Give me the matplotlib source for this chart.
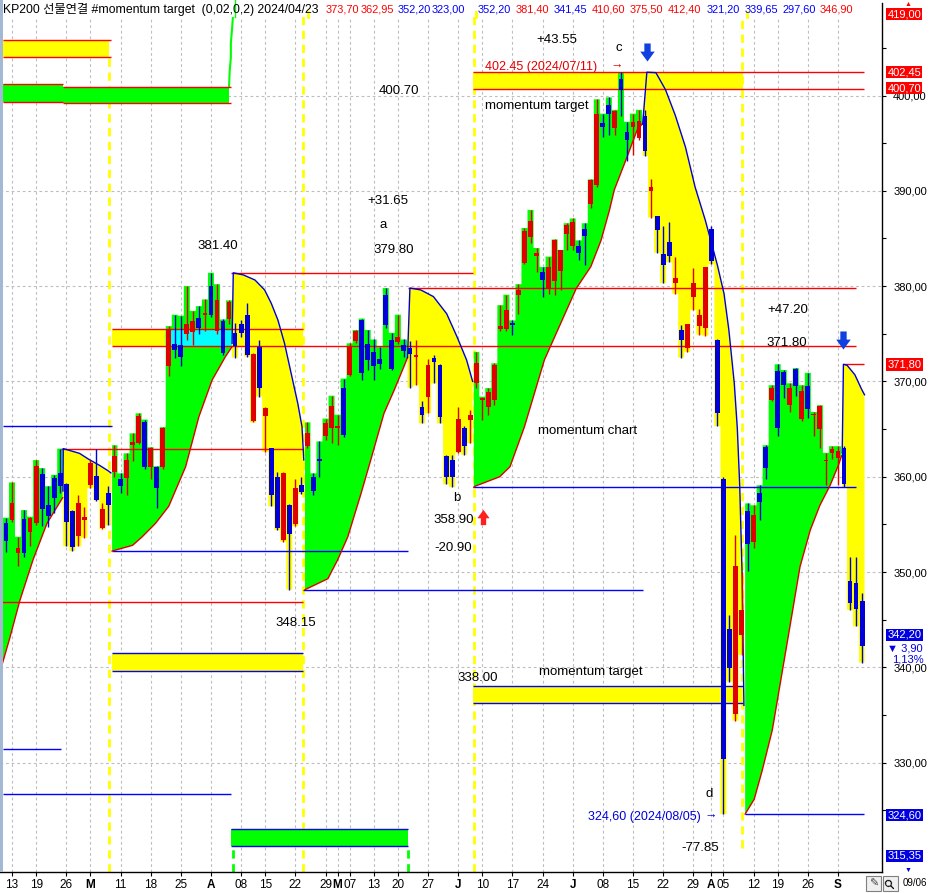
import numpy as np
import pandas as pd
import matplotlib
matplotlib.use("Agg")
import matplotlib.pyplot as plt
from matplotlib.path import Path
from matplotlib.patches import Polygon, Rectangle
from matplotlib.lines import Line2D
from matplotlib.ticker import FuncFormatter

plt.rcParams['font.family'] = ['Liberation Sans', 'Noto Sans CJK KR', 'DejaVu Sans']

# ---------------- 거래일 (KRX) ----------------
holidays = ['2024-02-09', '2024-02-12', '2024-03-01', '2024-04-10', '2024-05-01',
            '2024-05-06', '2024-05-15', '2024-06-06', '2024-08-15']
dates = pd.bdate_range('2024-02-08', '2024-09-06')
dates = dates[~dates.isin(pd.to_datetime(holidays))]

# ---------------- 일봉 OHLC ----------------
opens = [355.1, 355.5, 352.0, 355.6, 354.2, 355.1, 360.3, 357.0, 359.9, 360.35,
         359.2, 356.4, 353.8, 355.5, 359.1, 360.1, 354.6, 358.3, 360.5, 359.8,
         359.9, 363.3, 363.5, 365.7, 361.05, 361.0, 361.0, 371.6, 373.9, 373.8,
         375.0, 375.2, 376.7, 377.0, 380.0, 375.3, 376.3, 376.5, 375.1, 376.0,
         377.0, 365.8, 373.65, 366.4, 363.0, 360.0, 353.4, 357.0, 355.0, 359.1,
         363.2, 360.0, 361.9, 364.3, 365.1, 365.1, 369.3, 370.7, 374.2, 376.45,
         373.9, 373.1, 372.4, 379.1, 374.35, 374.1, 373.8, 373.5, 372.6, 367.35,
         368.4, 372.5, 371.7, 362.2, 361.75, 362.6, 365.1, 366.0, 369.8, 368.0,
         367.35, 368.0, 375.5, 375.5, 376.1, 379.1, 382.45, 385.2, 383.2, 381.5,
         379.7, 380.5, 381.6, 385.5, 384.2, 384.2, 386.0, 388.6, 390.6, 397.15,
         399.0, 396.55, 401.7, 396.2, 396.7, 395.5, 397.85, 390.0, 387.4, 383.4,
         384.6, 380.3, 375.4, 373.5, 378.9, 375.8, 375.6, 386.0, 374.3, 359.75,
         344.0, 335.05, 343.35, 356.45, 353.2, 358.25, 363.1, 368.1, 371.1, 371.0,
         367.5, 371.3, 366.05, 369.5, 366.45, 365.0, 361.6, 362.5, 362.0, 363.05,
         349.05, 348.8, 347.0]
highs = [355.7, 359.4, 353.7, 356.5, 355.8, 361.75, 360.9, 359.0, 360.2, 362.95,
         359.3, 356.5, 358.05, 356.8, 361.8, 362.9, 357.2, 359.0, 363.3, 360.35,
         362.45, 364.55, 366.65, 366.0, 363.1, 361.1, 365.2, 375.8, 377.0, 376.9,
         380.0, 377.4, 377.9, 378.6, 381.4, 380.2, 376.5, 378.5, 376.1, 376.4,
         378.2, 373.0, 374.35, 367.35, 363.0, 360.5, 360.5, 357.1, 359.8, 360.0,
         365.7, 360.35, 363.7, 366.1, 368.5, 366.5, 370.3, 374.0, 375.4, 376.6,
         375.4, 374.4, 373.6, 379.8, 375.1, 377.0, 374.4, 374.2, 374.35, 367.9,
         372.4, 372.8, 371.8, 362.3, 362.3, 367.35, 365.3, 367.0, 373.1, 368.4,
         369.3, 371.9, 378.0, 379.1, 376.4, 380.2, 386.1, 388.0, 384.0, 382.0,
         383.1, 384.9, 383.8, 386.6, 387.1, 384.8, 386.6, 391.2, 399.6, 398.1,
         399.8, 398.5, 402.45, 397.25, 398.1, 398.5, 398.5, 391.2, 387.4, 386.3,
         386.7, 383.1, 375.9, 376.0, 381.9, 377.6, 382.0, 386.3, 374.5, 360.0,
         345.5, 353.9, 350.0, 357.2, 357.0, 359.1, 363.3, 369.6, 371.8, 371.2,
         369.8, 371.4, 369.6, 370.9, 366.8, 367.5, 362.5, 363.2, 363.2, 363.2,
         351.6, 351.6, 347.8]
lows = [352.1, 355.3, 350.6, 351.6, 352.7, 354.9, 354.8, 354.7, 356.2, 358.3,
        352.7, 352.2, 352.7, 353.6, 358.8, 357.5, 354.5, 354.9, 360.0, 358.3,
        358.1, 361.6, 363.4, 360.8, 359.8, 356.7, 360.8, 370.6, 372.5, 371.6,
        374.35, 373.8, 375.0, 375.3, 376.8, 375.0, 372.8, 376.0, 372.5, 374.7,
        372.6, 365.7, 368.4, 362.6, 356.9, 354.4, 353.2, 348.15, 354.8, 358.2,
        363.0, 358.1, 360.0, 363.85, 363.5, 363.3, 364.2, 370.6, 374.0, 370.15,
        371.2, 370.1, 371.3, 375.6, 371.2, 373.9, 372.6, 369.35, 369.6, 365.6,
        366.65, 369.8, 365.6, 359.2, 358.9, 362.5, 362.3, 363.5, 369.3, 366.0,
        366.5, 367.5, 375.3, 375.3, 374.9, 377.1, 382.3, 384.5, 381.5, 378.9,
        379.2, 379.1, 379.6, 383.8, 383.8, 382.7, 382.2, 388.2, 390.4, 395.7,
        395.85, 395.85, 397.8, 393.1, 393.75, 395.3, 393.65, 387.2, 383.5, 380.3,
        382.5, 379.2, 372.5, 373.1, 377.5, 374.9, 374.8, 382.3, 365.3, 324.6,
        338.5, 334.4, 341.3, 350.1, 352.5, 355.5, 359.75, 367.9, 364.3, 368.3,
        366.8, 368.5, 365.8, 366.2, 364.3, 363.0, 359.1, 361.9, 359.1, 358.9,
        346.0, 344.3, 340.5]
closes = [353.3, 357.2, 352.5, 352.0, 355.7, 361.1, 356.6, 355.9, 357.8, 359.0,
          355.2, 352.6, 357.2, 355.75, 361.4, 357.6, 356.6, 357.0, 362.2, 359.0,
          361.75, 363.6, 366.4, 361.05, 363.0, 358.85, 365.1, 375.45, 373.3, 372.6,
          376.0, 376.3, 375.6, 377.15, 377.0, 378.5, 373.0, 378.35, 373.7, 375.1,
          372.8, 372.9, 369.35, 367.2, 358.1, 354.6, 360.35, 354.0, 358.8, 358.4,
          364.55, 358.5, 361.7, 365.6, 367.4, 365.3, 364.4, 373.65, 375.3, 370.9,
          372.3, 371.6, 371.8, 375.9, 371.3, 374.7, 373.2, 372.85, 372.8, 366.5,
          371.7, 372.0, 366.3, 360.0, 360.0, 366.1, 363.2, 366.5, 371.9, 368.3,
          368.9, 371.7, 375.8, 377.5, 375.9, 379.6, 385.8, 386.8, 383.5, 380.6,
          382.0, 384.8, 383.8, 386.4, 386.7, 383.5, 385.3, 391.1, 398.1, 396.7,
          398.1, 398.4, 400.6, 395.3, 397.25, 397.3, 394.2, 390.35, 385.9, 382.2,
          383.15, 380.9, 374.3, 376.0, 380.3, 377.0, 382.0, 382.6, 366.7, 330.4,
          339.9, 350.6, 346.05, 352.9, 356.0, 357.3, 360.9, 369.3, 365.1, 369.6,
          369.3, 369.5, 369.0, 367.1, 366.6, 367.45, 361.8, 362.9, 362.75, 359.25,
          346.7, 346.1, 342.2]

# ---------------- momentum chart 구간 (곡선 꼭짓점: 봉 위치, 값) ----------------
seg_kind = ['g', 'y', 'g', 'y', 'g', 'y', 'g', 'y', 'g', 'y']
seg_bars = [(0, 9), (10, 17), (18, 37), (38, 49), (50, 66), (67, 77),
            (78, 105), (106, 122), (123, 138), (139, 142)]
seg_x = [
    [-1.0, 0.6, 2.3, 4.5, 6.8, 9.4],
    [9.45, 9.5, 12.2, 13.8, 15.5, 17.0, 17.4],
    [17.6, 21.0, 22.6, 24.8, 27.0, 29.8, 32.0, 34.2, 36.4, 37.5],
    [37.5, 37.7, 39.4, 41.3, 42.9, 44.0, 45.1, 46.2, 47.3, 48.4, 49.1, 49.4],
    [49.6, 53.4, 55.0, 56.7, 58.9, 60.5, 62.7, 64.4, 66.0, 66.6],
    [66.6, 67.0, 68.8, 70.9, 73.1, 74.8, 76.4, 77.4],
    [77.6, 77.8, 81.9, 83.6, 86.0, 89.3, 94.6, 97.0, 98.7, 100.1, 100.9, 102.8, 104.7, 105.5],
    [105.6, 106.3, 107.8, 109.4, 111.0, 112.7, 114.3, 116.0, 118.0, 119.1, 119.9,
     120.8, 121.3, 121.7, 122.1, 122.4],
    [122.6, 124.1, 125.4, 127.1, 128.5, 130.1, 131.7, 133.4, 135.0, 136.7, 138.1, 138.6],
    [138.7, 138.9, 139.5, 140.8, 141.9, 142.4],
]
seg_v = [
    [339.5, 343.0, 347.0, 351.3, 355.1, 357.8],
    [358.5, 362.95, 362.45, 361.8, 361.2, 360.6, 360.4],
    [352.2, 352.8, 353.7, 355.1, 356.9, 361.05, 366.3, 370.15, 372.6, 373.65],
    [374.0, 381.4, 381.17, 380.64, 379.6, 378.2, 376.45, 374.0, 370.85, 367.7, 365.25, 361.75],
    [348.15, 349.3, 351.26, 353.7, 358.25, 361.75, 366.65, 369.1, 371.55, 372.5],
    [372.5, 379.8, 379.6, 378.9, 377.1, 374.7, 372.25, 370.0],
    [358.9, 359.0, 360.0, 361.05, 365.25, 372.25, 379.77, 382.04, 384.8, 387.98, 390.1,
     393.2, 396.4, 397.0],
    [397.0, 402.45, 402.4, 400.6, 397.95, 394.6, 390.4, 386.9, 382.2, 379.2, 375.4,
     369.8, 365.1, 359.1, 349.7, 336.0],
    [324.6, 326.15, 329.1, 333.4, 338.6, 344.55, 350.55, 354.4, 357.0, 359.1, 361.25, 362.2],
    [362.5, 371.8, 371.7, 370.7, 369.2, 368.6],
]

# ---------------- momentum target 박스 / 수평선 ----------------
box_top = [405.80, 401.18, 400.92, 375.50, 341.45, 402.45, 338.00, 323.00]
box_bot = [404.05, 399.30, 399.18, 373.70, 339.65, 400.70, 336.25, 321.20]
box_x0 = [-0.7, -0.7, 9.4, 17.6, 17.6, 77.4, 77.4, 37.4]
box_x1 = [17.1, 9.4, 37.0, 49.3, 49.3, 122.3, 122.3, 66.6]
box_fill = ['y', 'g', 'g', 'y', 'y', 'y', 'y', 'g']

red_lv = [405.80, 404.05, 401.18, 399.30, 400.92, 399.18, 381.40, 379.80, 375.50,
          373.70, 362.95, 346.90, 402.45, 400.70, 371.80]
red_x0 = [-0.5, -0.5, -0.5, -0.5, 9.4, 9.4, 37.4, 66.6, 17.6, 17.6, 9.2, -1.0, 77.4, 77.4, 139.0]
red_x1 = [17.5, 17.5, 9.4, 9.4, 37.4, 37.4, 77.4, 141.0, 49.3, 141.0, 49.3, 49.3, 142.3, 142.3, 142.3]
blue_lv = [365.30, 352.20, 348.15, 358.90, 331.40, 326.70, 341.45, 339.65, 338.00,
           336.25, 323.00, 321.20, 324.60]
blue_x0 = [-0.5, 17.6, 49.3, 77.4, -0.5, -0.5, 17.6, 17.6, 77.4, 77.4, 37.4, 37.4, 122.6]
blue_x1 = [17.6, 66.6, 105.6, 141.0, 9.2, 37.4, 49.3, 49.3, 122.3, 122.3, 66.6, 66.6, 142.3]

# 구간 전환 세로선: (봉 위치, 위쪽 끝 값)
yellow_marks = [17.1, 49.3, 77.6, 122.1]
yellow_tops = [404.05, 409.71, 409.71, 409.71]
yellow_bots = [318.52, 318.52, 318.52, 321.0]
green_marks = [37.7, 66.6]

header_vals = ['373,70', '362,95', '352,20', '323,00', '352,20', '381,40', '341,45',
               '410,60', '375,50', '412,40', '321,20', '339,65', '297,60', '346,90']
header_cols = ['r', 'r', 'b', 'b', 'b', 'r', 'b', 'r', 'r', 'r', 'b', 'b', 'b', 'r']
header_px = [326, 361, 398, 432, 478, 516, 554, 592, 630, 668, 707, 745, 782, 820]

RED, BLUE = '#E00000', '#0000D8'
GREEN, YELLOW, CYAN = '#00FF00', '#FFFF00', '#00FFFF'
W, H = 930, 893

fig = plt.figure(figsize=(W / 100, H / 100), dpi=100)
ax = fig.add_axes([0, 21 / H, 882 / W, 869 / H])
ax.set_xlim(-0.99, 145.3)
ax.set_ylim(318.52, 409.71)
for s in ['top', 'left']:
    ax.spines[s].set_visible(False)
ax.spines['right'].set_linewidth(1)
ax.spines['bottom'].set_linewidth(1)

# 날짜 눈금
month_letter = {3: 'M', 4: 'A', 5: 'M', 6: 'J', 7: 'J', 8: 'A', 9: 'S'}
tpos, tlab, tbold = [], [], []
for k in range(1, len(dates)):
    d, p = dates[k], dates[k - 1]
    if d.month != p.month:
        tpos.append(k); tlab.append(month_letter[d.month]); tbold.append(True)
    elif d.isocalendar().week != p.isocalendar().week:
        tpos.append(k); tlab.append(f'{d.day:02d}'); tbold.append(False)
ax.set_xticks(tpos)
ax.set_xticklabels(tlab)
for t, b in zip(ax.get_xticklabels(), tbold):
    if b:
        t.set_fontweight('bold')
ax.tick_params(axis='x', direction='out', length=3, width=0.8, labelsize=8.5, pad=2)

ax.yaxis.tick_right()
ax.set_yticks(np.arange(330, 401, 10))
ax.set_yticks(np.arange(325, 410, 10), minor=True)
ax.yaxis.set_major_formatter(FuncFormatter(lambda v, p: f'{v:.2f}'.replace('.', ',')))
ax.tick_params(axis='y', which='both', direction='out', length=3, width=0.8,
               labelsize=8, pad=5)

# 격자
gkw = dict(color='#BEBEBE', lw=0.8, ls=(0, (2.5, 2.5)), zorder=0)
for v in np.arange(330, 401, 10):
    ax.axhline(v, **gkw)
for x in tpos:
    ax.axvline(x, **gkw)

# 구간 표시 세로선
ax.vlines(yellow_marks, yellow_bots, yellow_tops, color=YELLOW, lw=2, ls=(0, (3, 2)),
          zorder=0.5)
ax.vlines(green_marks, 318.52, 321.2, color=GREEN, lw=2, ls=(0, (3, 2)), zorder=0.5)
ax.plot([37.0, 37.1, 37.3, 37.3, 37.5, 37.8], [400.9, 402.5, 404.0, 405.5, 407.0, 409.7],
        color=GREEN, lw=1.5, zorder=0.6)

# 박스
for t, b, x0, x1, f in zip(box_top, box_bot, box_x0, box_x1, box_fill):
    ax.add_patch(Rectangle((x0, b), x1 - x0, t - b, fc=GREEN if f == 'g' else YELLOW,
                           ec='none', zorder=1))

# momentum chart
for kind, (b0, b1), cx, cv in zip(seg_kind, seg_bars, seg_x, seg_v):
    price = highs if kind == 'g' else lows
    pts = list(zip(cx, cv))
    for k in range(b1, b0 - 1, -1):
        pts.append((min(k + 0.5, cx[-1]), price[k]))
        pts.append((max(k - 0.5, cx[0]), price[k]))
    ax.add_patch(Polygon(pts, closed=True, fc=GREEN if kind == 'g' else YELLOW,
                         ec='none', zorder=1.5))
    if kind == 'g' and b0 == 18:
        clip = Rectangle((17.6, 373.70), 49.3 - 17.6, 375.50 - 373.70, transform=ax.transData)
        cy = Polygon(pts, closed=True, fc=CYAN, ec='none', zorder=1.6)
        ax.add_patch(cy)
        cy.set_clip_path(clip)
    ax.plot(cx, cv, color=RED if kind == 'g' else BLUE, lw=1, zorder=2.5)

# 수평선
ax.hlines(red_lv, red_x0, red_x1, colors='#FF0000', lw=1, zorder=2)
ax.hlines(blue_lv, blue_x0, blue_x1, colors='#0000FF', lw=1, zorder=2)

# 캔들
idx = np.arange(len(dates))
o, h, l, c = map(np.array, (opens, highs, lows, closes))
col = np.where(c >= o, RED, BLUE)
ax.vlines(idx, l, h, colors=col, lw=1, zorder=4)
ax.bar(idx, np.maximum(np.abs(c - o), 0.12), bottom=np.minimum(o, c), width=0.8,
       color=col, linewidth=0, zorder=5)

# 주석
tkw = dict(ha='center', va='center', fontsize=9.5, color='black', zorder=6)
notes = [(65.1, 400.47, '400.70'), (63.4, 388.93, '+31.65'), (62.6, 386.4, 'a'),
         (64.25, 383.8, '379.80'), (35.1, 384.2, '381.40'), (48.1, 344.65, '348.15'),
         (74.8, 357.8, 'b'), (74.3, 355.5, '358.90'), (74.1, 352.5, '-20.90'),
         (91.4, 405.8, '+43.55'), (101.6, 405.0, 'c'), (88.0, 398.9, 'momentum target'),
         (96.4, 364.8, 'momentum chart'), (97.0, 339.5, 'momentum target'),
         (78.3, 338.9, '338.00'), (129.7, 377.5, '+47.20'), (129.5, 374.0, '371.80'),
         (116.6, 326.7, 'd'), (115.2, 321.0, '-77.85')]
for x, y, s in notes:
    ax.text(x, y, s, **tkw)
ax.text(88.8, 403.0, '402.45 (2024/07/11)', ha='center', va='center', fontsize=9,
        color=RED, zorder=6)
ax.text(101.3, 403.1, '→', ha='center', va='center', fontsize=9, color=RED, zorder=6)
ax.text(105.9, 324.3, '324,60 (2024/08/05)', ha='center', va='center', fontsize=9,
        color=BLUE, zorder=6)
ax.text(116.9, 324.4, '→', ha='center', va='center', fontsize=9, color=BLUE, zorder=6)

arrow = Path([(-0.35, 1), (0.35, 1), (0.35, 0.1), (0.8, 0.1), (0, -1), (-0.8, 0.1),
              (-0.35, 0.1), (-0.35, 1)], [Path.MOVETO] + [Path.LINETO] * 6 + [Path.CLOSEPOLY])
arrow_up = Path(arrow.vertices * [1, -1], arrow.codes)
ax.plot([106.3, 138.9], [404.6, 374.3], ls='none', marker=arrow, ms=13,
        color='#1040E0', mec='none', zorder=6)
ax.plot([79.2], [355.8], ls='none', marker=arrow_up, ms=11, color='#FF2020',
        mec='none', zorder=6)

# 오른쪽 가격 라벨
ytr = ax.get_yaxis_transform()
lkw = dict(transform=ytr, ha='left', va='center', fontsize=8, color='white', zorder=7)
for v, s, fc in [(402.46, '402,45', '#FF0000'), (400.79, '400,70', '#FF0000'),
                 (371.80, '371,80', '#FF0000'), (343.4, '342,20', '#0000E0'),
                 (324.5, '324,60', '#0000E0'), (408.55, '419,00', '#FF0000'),
                 (320.2, '315,35', '#0000E0')]:
    ax.text(1.006, v, s, bbox=dict(boxstyle='square,pad=0.12', fc=fc, ec='none'), **lkw)
ax.text(1.006, 342.0, '▼ 3,90', transform=ytr, ha='left', va='center', fontsize=8,
        color='#0000E0')
ax.text(1.012, 340.8, '1,13%', transform=ytr, ha='left', va='center', fontsize=8,
        color='#0000E0')
fig.text(908 / W, 1 - 5 / H, '▲', ha='center', va='center', fontsize=5, color='#FF0000')
fig.text(908 / W, 1 - 870 / H, '▼', ha='center', va='center', fontsize=5, color='#0000E0')

# 헤더
fig.add_artist(Rectangle((0, 1 - 17 / H), 880 / W, 17 / H, transform=fig.transFigure,
                         fc='white', ec='none', zorder=1))
fig.add_artist(Line2D([235 / W, 235 / W], [1, 1 - 17 / H], color=GREEN, lw=1, zorder=1.5))
for xp in [308, 476, 747]:
    fig.add_artist(Line2D([xp / W, xp / W], [1 - 12 / H, 1 - 17 / H], color=YELLOW,
                          lw=2, zorder=1.5))
fig.text(2.7 / W, 1 - 10 / H, 'KP200 선물연결 #momentum target  (0,02,0,2) 2024/04/23',
         ha='left', va='center', fontsize=8.8, color='black', zorder=2)
for s, cc, xp in zip(header_vals, header_cols, header_px):
    fig.text(xp / W, 1 - 10 / H, s, ha='left', va='center', fontsize=7.9,
             color='#FF0000' if cc == 'r' else '#0000FF', zorder=2)

# 왼쪽 테두리, 오른쪽 아래 아이콘
fig.add_artist(Rectangle((0, 21 / H), 3 / W, 872 / H, transform=fig.transFigure,
                         fc='#A3B8D3', ec='none', zorder=1))
for x0 in [866, 883]:
    fig.add_artist(Rectangle((x0 / W, 1 - 891 / H), 15 / W, 15 / H, transform=fig.transFigure,
                             fc='#F0F0F0', ec='#808080', lw=0.8, zorder=1))
fig.text(873.5 / W, 1 - 883.5 / H, '✎', ha='center', va='center', fontsize=8,
         family='DejaVu Sans', color='#404040')
fig.text(890.5 / W, 1 - 883.5 / H, '⚲', ha='center', va='center', fontsize=9,
         family='DejaVu Sans', color='black', rotation=45)
fig.text(903 / W, 1 - 883.5 / H, '09/06', ha='left', va='center', fontsize=7)

fig.savefig('out.png', dpi=100)
